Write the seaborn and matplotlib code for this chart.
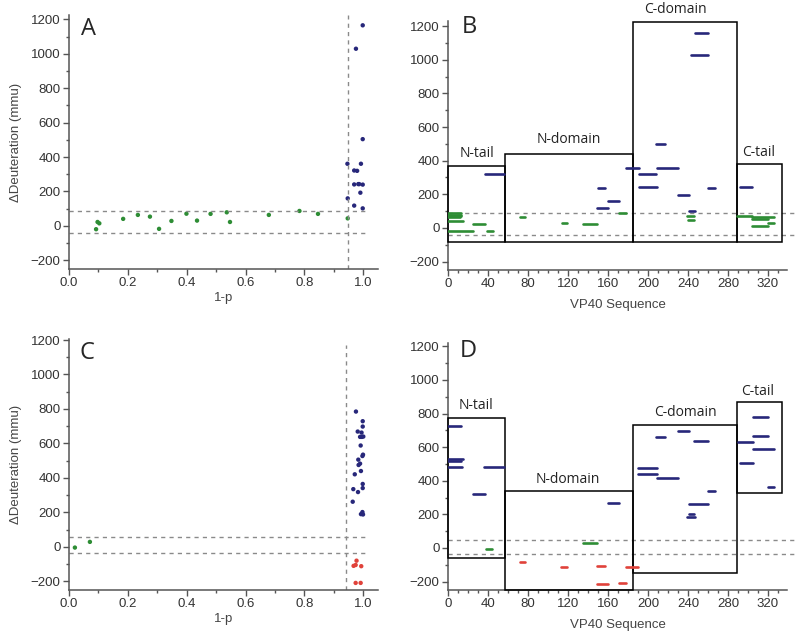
import numpy as np
import pandas as pd
import matplotlib
matplotlib.use("Agg")
import matplotlib.pyplot as plt
from matplotlib.patches import Rectangle
from matplotlib.ticker import MultipleLocator
import seaborn as sns

# ---------------- data ----------------
# panel A: volcano-style points (1-p, delta deuteration)
a_green_x = [0.092, 0.097, 0.103, 0.184, 0.234, 0.275, 0.306, 0.348, 0.399, 0.435,
             0.481, 0.536, 0.547, 0.679, 0.783, 0.846, 0.947]
a_green_y = [-19, 23, 15, 41, 64, 54, -17, 29, 71, 31, 70, 79, 23, 64, 87, 70, 44]
a_blue_x = [0.946, 0.947, 0.975, 0.969, 0.979, 0.969, 0.983, 0.986, 0.969, 0.992,
            0.990, 0.998, 0.998, 0.998, 0.998]
a_blue_y = [361, 160, 1029, 322, 320, 241, 243, 243, 118, 361, 193, 240, 504, 1165, 102]

# panel C
c_green_x = [0.020, 0.071]
c_green_y = [-4, 29]
c_blue_x = [0.975, 0.981, 0.998, 0.998, 0.994, 0.989, 0.995, 1.000, 0.991, 0.999,
            0.997, 0.983, 0.989, 0.984, 0.992, 0.971, 0.966, 0.982, 0.998, 0.998,
            0.964, 0.997, 0.992, 0.999]
c_blue_y = [785, 669, 729, 698, 663, 638, 638, 640, 588, 535, 527, 506, 483, 475,
            440, 421, 335, 318, 341, 365, 262, 202, 190, 188]
c_red_x = [0.977, 0.967, 0.974, 0.993, 0.974, 0.991]
c_red_y = [-80, -110, -105, -112, -209, -209]

# significance thresholds
a_thr = [89, -42]
a_pcut = 0.947
c_thr = [56, -35]
c_pcut = 0.94
b_thr = [91, -40]
d_thr = [46, -38]

# panel B: peptides along VP40 sequence
b_start = [37, 247, 243, 208, 178, 191, 209, 191, 150, 160, 149, 230, 241, 260, 292,
           0, 0, 0, 0, 0, 0, 25, 39, 72, 114, 135, 171, 239, 240, 289, 304, 304, 304, 320]
b_end = [56, 260, 260, 217, 191, 208, 230, 209, 157, 171, 160, 241, 247, 267, 304,
         13, 13, 13, 12, 15, 25, 37, 45, 77, 119, 149, 178, 246, 246, 304, 326, 320, 320, 326]
b_dd = [323, 1160, 1028, 501, 358, 321, 358, 242, 240, 162, 119, 196, 103, 238, 242,
        87, 77, 70, 63, 42, -18, 24, -16, 65, 32, 24, 87, 69, 46, 69, 65, 53, 14, 32]
b_cls = ["up"] * 15 + ["ns"] * 19

# panel D
d_start = [0, 0, 0, 0, 25, 36, 160, 190, 190, 208, 209, 230, 246, 241, 241, 239, 260,
           290, 292, 305, 305, 305, 320,
           38, 135,
           72, 113, 149, 149, 171, 178]
d_end = [13, 15, 13, 14, 37, 56, 171, 209, 209, 217, 230, 241, 260, 260, 246, 247, 267,
         305, 305, 320, 320, 326, 326,
         44, 149,
         77, 119, 157, 160, 178, 190]
d_dd = [727, 532, 520, 479, 322, 479, 270, 475, 441, 659, 417, 697, 639, 262, 205, 187, 340,
        633, 506, 782, 667, 586, 363,
        -4, 32,
        -81, -111, -105, -214, -210, -111]
d_cls = ["up"] * 23 + ["ns"] * 2 + ["down"] * 6

# domain boxes: name, start, end, top, bottom
domains = ["N-tail", "N-domain", "C-domain", "C-tail"]
dom_start = [0, 56.7, 185, 289]
dom_end = [56.7, 185, 289, 334]
b_top = [370, 438, 1224, 382]
b_bot = [-85, -85, -85, -85]
d_top = [772, 338, 733, 866]
d_bot = [-62, -250, -151, 328]
b_lab_xy = [(29, 445), (121, 527), (227, 1300), (311, 447)]
d_lab_xy = [(28, 846), (120, 405), (237, 808), (310, 931)]

palette = {"up": "#27277a", "ns": "#2e8d35", "down": "#e0423a"}

# ---------------- style ----------------
sns.set_style("ticks")
plt.rcParams["font.family"] = ["Liberation Sans", "DejaVu Sans"]
plt.rcParams["axes.edgecolor"] = "#555555"
plt.rcParams["xtick.color"] = "#555555"
plt.rcParams["ytick.color"] = "#555555"
plt.rcParams["xtick.labelcolor"] = "#333333"
plt.rcParams["ytick.labelcolor"] = "#333333"
plt.rcParams["font.size"] = 9

fig = plt.figure(figsize=(7.95, 6.35), dpi=100)
axA = fig.add_axes([0.0868, 0.5764, 0.3887, 0.400])
axB = fig.add_axes([0.5635, 0.5748, 0.4264, 0.392])
axC = fig.add_axes([0.0868, 0.0709, 0.3887, 0.395])
axD = fig.add_axes([0.5635, 0.0709, 0.4264, 0.389])

dash = dict(color="#8a8a8a", lw=1.0, linestyles=(0, (3, 3)))


def style_axis(ax, ylim, xlim, xmaj, xmin):
    sns.despine(ax=ax)
    ax.set_xlim(*xlim)
    ax.set_ylim(*ylim)
    ax.yaxis.set_major_locator(MultipleLocator(200))
    ax.yaxis.set_minor_locator(MultipleLocator(100))
    ax.xaxis.set_major_locator(MultipleLocator(xmaj))
    ax.xaxis.set_minor_locator(MultipleLocator(xmin))
    ax.tick_params(which="major", length=4, width=1, labelsize=9.5, pad=2)
    ax.tick_params(which="minor", length=2.5, width=1)
    for s in ax.spines.values():
        s.set_linewidth(1.1)


def scatter_panel(ax, xs, ys, cls, ylim, thr, pcut, vtop, letter, lxy):
    df = pd.DataFrame({"p": xs, "dd": ys, "cls": cls})
    ax.hlines(thr, 0, 1.02, **dash)
    ax.vlines(pcut, ylim[0], vtop, **dash)
    sns.scatterplot(data=df, x="p", y="dd", hue="cls", palette=palette, s=10,
                    linewidth=0, legend=False, ax=ax)
    style_axis(ax, ylim, (0, 1.05), 0.2, 0.1)
    ax.xaxis.set_major_formatter(matplotlib.ticker.FormatStrFormatter("%.1f"))
    ax.set_xlabel("1-p", fontsize=9.5, color="#444444", labelpad=2)
    ax.set_ylabel("\u0394Deuteration (mmu)", fontsize=9.5, color="#444444", labelpad=6)
    ax.text(lxy[0], lxy[1], letter, fontsize=17, family=["Open Sans", "DejaVu Sans"],
            ha="center", va="center")


def segment_panel(ax, st, en, dd, cls, tops, bots, labxy, thr, ylim, letter, lxy):
    seg = pd.DataFrame({
        "pos": st + en,
        "dd": dd + dd,
        "cls": cls + cls,
        "pep": list(range(len(st))) * 2,
    })
    ax.hlines(thr, 0, 346, clip_on=False, **dash)
    for s0, s1, t, b in zip(dom_start, dom_end, tops, bots):
        ax.add_patch(Rectangle((s0, b), s1 - s0, t - b, fill=False, ec="black",
                               lw=1.1, clip_on=False, zorder=3))
    sns.lineplot(data=seg, x="pos", y="dd", hue="cls", units="pep", estimator=None,
                 palette=palette, lw=1.9, legend=False, ax=ax, zorder=4)
    for name, (tx, ty) in zip(domains, labxy):
        ax.text(tx, ty, name, fontsize=10, family=["Open Sans", "DejaVu Sans"],
                ha="center", va="center", color="#222222")
    style_axis(ax, ylim, (0, 339), 40, 10)
    ax.set_xlabel("VP40 Sequence", fontsize=9.5, color="#444444", labelpad=6)
    ax.set_ylabel("")
    ax.text(lxy[0], lxy[1], letter, fontsize=17, family=["Open Sans", "DejaVu Sans"],
            ha="center", va="center")


scatter_panel(axA, a_green_x + a_blue_x, a_green_y + a_blue_y,
              ["ns"] * len(a_green_x) + ["up"] * len(a_blue_x),
              (-250, 1225), a_thr, a_pcut, 1225, "A", (0.066, 1141))
scatter_panel(axC, c_green_x + c_blue_x + c_red_x, c_green_y + c_blue_y + c_red_y,
              ["ns"] * len(c_green_x) + ["up"] * len(c_blue_x) + ["down"] * len(c_red_x),
              (-250, 1205), c_thr, c_pcut, 1170, "C", (0.062, 1123))
segment_panel(axB, b_start, b_end, b_dd, b_cls, b_top, b_bot, b_lab_xy, b_thr,
              (-250, 1230), "B", (21.7, 1192))
segment_panel(axD, d_start, d_end, d_dd, d_cls, d_top, d_bot, d_lab_xy, d_thr,
              (-250, 1220), "D", (20, 1170))

fig.savefig("out.png", dpi=100)
